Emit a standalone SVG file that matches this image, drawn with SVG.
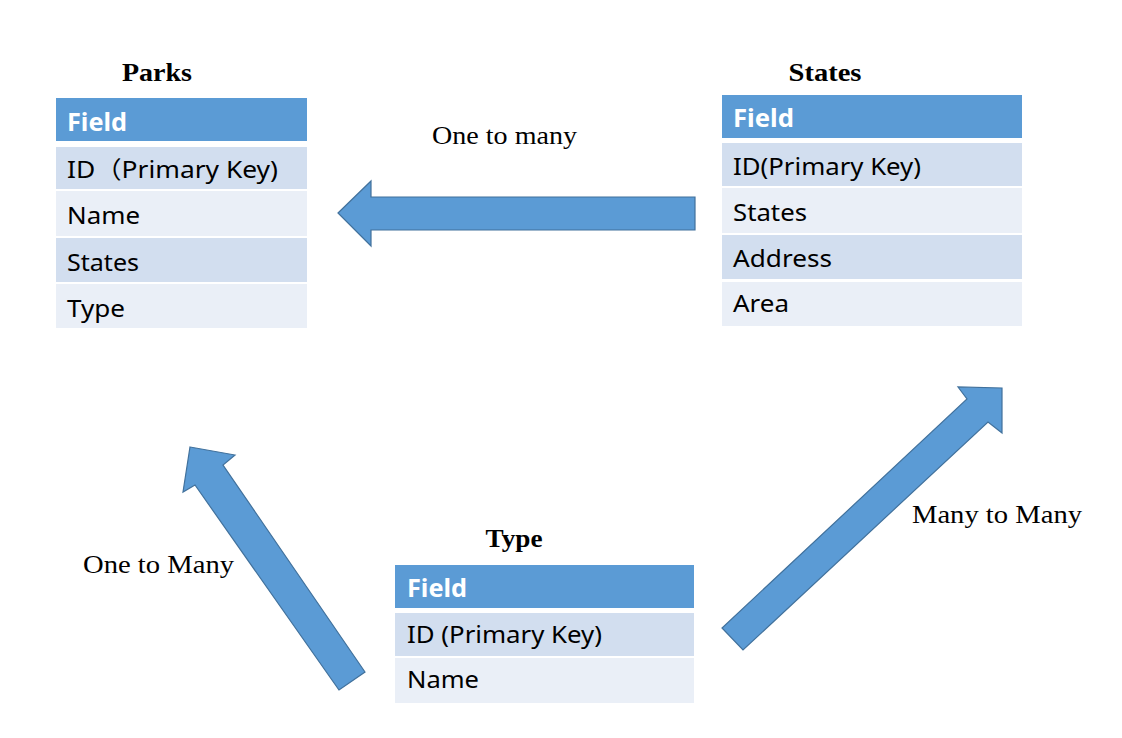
<svg xmlns="http://www.w3.org/2000/svg" width="1122" height="738" viewBox="0 0 1122 738">
<style>
.bg{fill:#ffffff}
.hdr{fill:#5B9BD5}
.dk{fill:#D2DEEF}
.lt{fill:#EAEFF7}
.title{font-family:"Liberation Serif","Times New Roman",serif;font-weight:bold;font-size:25px;fill:#000}
.htxt{font-family:"Noto Sans","Open Sans","Noto Sans CJK SC",sans-serif;font-weight:bold;font-size:25px;fill:#ffffff}
.ctxt{font-family:"Noto Sans","Open Sans","Noto Sans CJK SC",sans-serif;font-size:24px;fill:#000}
.lbl{font-family:"Liberation Serif","Times New Roman",serif;font-size:26px;fill:#000}
.arrow{fill:#5B9BD5;stroke:#41719C;stroke-width:1.2;stroke-linejoin:miter}
</style>
<rect class="bg" x="0" y="0" width="1122" height="738"/>

<g id="parks">
  <text class="title" x="157" y="81" text-anchor="middle" textLength="70" lengthAdjust="spacingAndGlyphs">Parks</text>
  <rect class="hdr" x="56" y="98" width="251" height="43"/>
  <rect class="dk" x="56" y="147" width="251" height="42"/>
  <rect class="lt" x="56" y="191" width="251" height="45"/>
  <rect class="dk" x="56" y="238" width="251" height="44"/>
  <rect class="lt" x="56" y="284" width="251" height="44"/>
  <text class="htxt" x="67" y="131" textLength="60" lengthAdjust="spacingAndGlyphs">Field</text>
  <text class="ctxt" x="67" y="178" textLength="211" lengthAdjust="spacingAndGlyphs">ID（Primary Key)</text>
  <text class="ctxt" x="67" y="224" textLength="73" lengthAdjust="spacingAndGlyphs">Name</text>
  <text class="ctxt" x="67" y="271" textLength="72" lengthAdjust="spacingAndGlyphs">States</text>
  <text class="ctxt" x="67" y="317" textLength="58" lengthAdjust="spacingAndGlyphs">Type</text>
</g>

<g id="states">
  <text class="title" x="825" y="81" text-anchor="middle" textLength="73" lengthAdjust="spacingAndGlyphs">States</text>
  <rect class="hdr" x="722" y="95" width="300" height="43"/>
  <rect class="dk" x="722" y="143" width="300" height="43"/>
  <rect class="lt" x="722" y="188" width="300" height="45"/>
  <rect class="dk" x="722" y="235" width="300" height="44"/>
  <rect class="lt" x="722" y="282" width="300" height="44"/>
  <text class="htxt" x="733" y="127" textLength="61" lengthAdjust="spacingAndGlyphs">Field</text>
  <text class="ctxt" x="733" y="175" textLength="188" lengthAdjust="spacingAndGlyphs">ID(Primary Key)</text>
  <text class="ctxt" x="733" y="221" textLength="74" lengthAdjust="spacingAndGlyphs">States</text>
  <text class="ctxt" x="733" y="267" textLength="99" lengthAdjust="spacingAndGlyphs">Address</text>
  <text class="ctxt" x="733" y="312" textLength="56" lengthAdjust="spacingAndGlyphs">Area</text>
</g>

<g id="type">
  <text class="title" x="514" y="547" text-anchor="middle" textLength="57" lengthAdjust="spacingAndGlyphs">Type</text>
  <rect class="hdr" x="395" y="565" width="299" height="43"/>
  <rect class="dk" x="395" y="613" width="299" height="43"/>
  <rect class="lt" x="395" y="658" width="299" height="45"/>
  <text class="htxt" x="407" y="597" textLength="60" lengthAdjust="spacingAndGlyphs">Field</text>
  <text class="ctxt" x="407" y="643" textLength="195" lengthAdjust="spacingAndGlyphs">ID (Primary Key)</text>
  <text class="ctxt" x="407" y="688" textLength="72" lengthAdjust="spacingAndGlyphs">Name</text>
</g>

<g id="connectors">
  <polygon class="arrow" points="338,213 371,181 371,197 695,197 695,230 371,230 371,246"/>
  <polygon class="arrow" points="190,447 235,455 223,465 365,672 339,690 195,485 183,492"/>
  <polygon class="arrow" points="1002,388 1002,433 988,422 743,650 722,628 967,399 958,387"/>
  <text class="lbl" x="432" y="144" textLength="145" lengthAdjust="spacingAndGlyphs">One to many</text>
  <text class="lbl" x="83" y="573" textLength="151" lengthAdjust="spacingAndGlyphs">One to Many</text>
  <text class="lbl" x="912" y="523" textLength="170" lengthAdjust="spacingAndGlyphs">Many to Many</text>
</g>
</svg>
